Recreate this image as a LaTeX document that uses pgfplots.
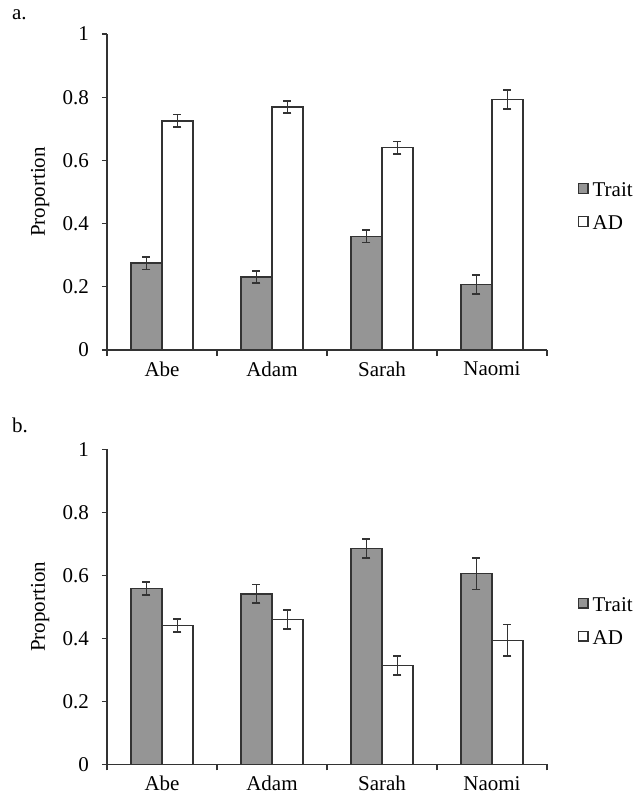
\documentclass[border=0pt]{standalone}
\usepackage{fontspec}
\setmainfont{Liberation Serif}
\usepackage{pgfplots}
\pgfplotsset{compat=1.18}
\definecolor{traitgray}{HTML}{959595}
\definecolor{edge}{HTML}{333333}
\newcommand{\lblfont}{\rmfamily\fontsize{10.5}{12}\selectfont}
\pgfplotsset{
  mystyle/.style={
    scale only axis, width=220pt, height=158pt,
    axis lines*=left,
    axis line style={edge, line width=0.6pt},
    ymin=0, ymax=1,
    ytick={0,0.2,0.4,0.6,0.8,1},
    yticklabels={0,0.2,0.4,0.6,0.8,1},
    xmin=0.5, xmax=4.5,
    xtick={1,2,3,4},
    xticklabels={Abe,Adam,Sarah,Naomi},
    minor xtick={0.5,1.5,2.5,3.5,4.5},
    tick align=outside, tick pos=left,
    major tick length=2.5pt, minor tick length=3pt,
    tick style={edge, line width=0.6pt},
    major x tick style={draw=none},
    /pgf/number format/assume math mode=true,
    ticklabel style={font=\lblfont},
    yticklabel style={xshift=-3pt},
    label style={font=\lblfont},
    ybar=0pt, bar width=15.5pt,
    ylabel=Proportion,
    ylabel style={at={(axis description cs:-0.152,0.5)}, anchor=center, rotate=0},
    legend style={at={(1.055,0.45)}, anchor=west, draw=none, fill=none,
      font=\lblfont, row sep=4pt,
      cells={anchor=west}},
    legend image code/.code={\draw[#1] (0pt,-1pt) rectangle (4.8pt,3.8pt);},
  },
  traitplot/.style={fill=traitgray, draw=edge, line width=0.7pt,
    error bars/.cd, y dir=both, y explicit,
    error bar style={edge, line width=0.9pt},
    error mark options={rotate=90, mark size=2pt, edge, line width=0.9pt}},
  adplot/.style={fill=white, draw=edge, line width=0.7pt,
    error bars/.cd, y dir=both, y explicit,
    error bar style={edge, line width=0.9pt},
    error mark options={rotate=90, mark size=2pt, edge, line width=0.9pt}},
}
\begin{document}
\begin{tikzpicture}
\useasboundingbox (0pt,0pt) rectangle (317.5pt,-399.5pt);
\node[anchor=base west, font=\lblfont] at (2.5pt,-9.5pt) {a.};
\node[anchor=base west, font=\lblfont] at (2.5pt,-216pt) {b.};
\begin{axis}[mystyle, at={(53.5pt,-175pt)}, anchor=origin]
\addplot[traitplot] coordinates {(1,0.275) +- (0,0.02) (2,0.231) +- (0,0.02) (3,0.360) +- (0,0.02) (4,0.207) +- (0,0.03)};
\addplot[adplot] coordinates {(1,0.725) +- (0,0.02) (2,0.769) +- (0,0.02) (3,0.640) +- (0,0.02) (4,0.792) +- (0,0.03)};
\legend{Trait,AD}
\end{axis}
\begin{axis}[mystyle, height=157.5pt, at={(53.5pt,-382.15pt)}, anchor=origin]
\addplot[traitplot] coordinates {(1,0.558) +- (0,0.02) (2,0.541) +- (0,0.03) (3,0.686) +- (0,0.03) (4,0.605) +- (0,0.05)};
\addplot[adplot] coordinates {(1,0.441) +- (0,0.02) (2,0.459) +- (0,0.03) (3,0.313) +- (0,0.03) (4,0.394) +- (0,0.05)};
\legend{Trait,AD}
\end{axis}
\end{tikzpicture}
\end{document}
